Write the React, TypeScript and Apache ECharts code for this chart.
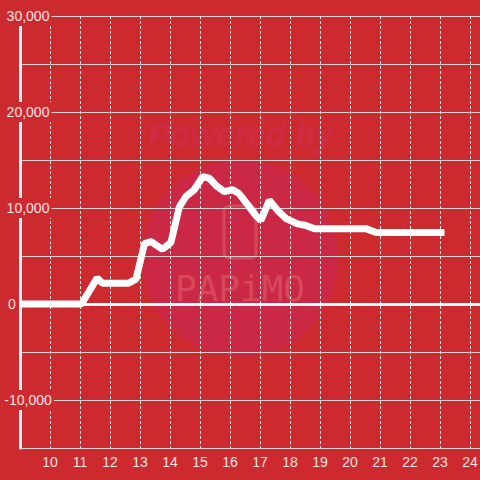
import React, { useEffect, useRef } from "react";
import * as echarts from "echarts";

const hours = [9, 11.05, 11.57, 11.75, 12.6, 12.87, 13.15, 13.37, 13.75, 14.03, 14.31, 14.53, 14.81, 15.09, 15.31, 15.55, 15.81, 16.09, 16.3, 16.6, 16.85, 17.03, 17.31, 17.6, 17.87, 18.25, 18.5, 18.81, 20.53, 20.87, 23.15];
const values = [0, 0, 2700, 2150, 2150, 2600, 6300, 6500, 5700, 6400, 10100, 11200, 11900, 13260, 13100, 12300, 11700, 11900, 11500, 10300, 9250, 8700, 10800, 9700, 8900, 8350, 8200, 7850, 7850, 7450, 7450];
const yLabelValues = [-10000, 0, 10000, 20000, 30000];
const xLabelValues = [10, 11, 12, 13, 14, 15, 16, 17, 18, 19, 20, 21, 22, 23, 24];

const BG = "#cd2a2f";
const FONT = "Liberation Sans";

export default function App() {
  const ref = useRef<HTMLDivElement>(null);
  useEffect(() => {
    if (!ref.current) return;
    const chart = echarts.init(ref.current, undefined, { renderer: "svg" });
    const data = hours.map((h, i) => [h, values[i]]);
    const yMin = -15000;
    const yMax = 30000;
    chart.setOption({
      animation: false,
      backgroundColor: BG,
      textStyle: { fontFamily: FONT },
      grid: { left: 20, width: 480, top: 16, bottom: 32, containLabel: false, outerBoundsMode: "none" },
      graphic: {
        elements: [
          { type: "circle", z: -1, shape: { cx: 240, cy: 258, r: 98 }, style: { fill: "#cb2846" }, silent: true },
          {
            type: "text", z: -1, x: 241, y: 134, silent: true,
            style: { text: "Powered by", fill: "#cf2b44", font: "italic bold 33px 'Liberation Sans'", align: "center", verticalAlign: "middle" },
          },
          {
            type: "rect", z: -1, silent: true,
            shape: { x: 224, y: 206, width: 32, height: 52, r: 5 },
            style: { fill: "none", stroke: "#d6485a", lineWidth: 3 },
          },
          {
            type: "text", z: -1, x: 240, y: 288, silent: true,
            style: { text: "PAPiMO", fill: "#d6485a", font: "36px 'DejaVu Sans Mono'", align: "center", verticalAlign: "middle" },
          },
        ],
      },
      xAxis: {
        type: "value",
        min: 9,
        max: 25,
        interval: 1,
        position: "bottom",
        axisLine: { show: true, lineStyle: { color: "#d4d4d4", width: 1 } },
        axisTick: { show: false },
        axisLabel: {
          color: "#f4e4e4",
          fontSize: 14,
          fontFamily: FONT,
          margin: 7,
          formatter: (v: number) => (xLabelValues.includes(v) ? String(v) : ""),
        },
        splitLine: { show: true, lineStyle: { color: "#e2dede", width: 1, type: [3, 2] } },
      },
      yAxis: [
        {
          type: "value",
          position: "left",
          min: yMin,
          max: yMax,
          interval: 5000,
          axisLine: { show: false },
          axisTick: { show: false },
          axisLabel: { show: false },
          splitLine: { show: true, lineStyle: { color: "#d2d0d0", width: 1 } },
        },
        {
          type: "value",
          position: "left",
          min: yMin,
          max: yMax,
          interval: 5000,
          z: 1,
          axisLine: { show: true, lineStyle: { color: "#f4f0f0", width: 3 } },
          axisTick: { show: false },
          splitLine: { show: false },
          axisLabel: {
            color: "#f4e4e4",
            fontSize: 14,
            fontFamily: FONT,
            margin: -8,
            align: "center",
            formatter: (v: number) => {
              if (!yLabelValues.includes(v)) return "";
              if (v === 0) return "{z|0}";
              return "{n|" + v.toLocaleString("en-US") + "}";
            },
            rich: {
              n: { backgroundColor: BG, padding: [3, 2, 3, 2], color: "#f4e4e4", fontSize: 14, fontFamily: FONT },
              z: { padding: [0, 32, 0, 0], color: "#f4e4e4", fontSize: 14, fontFamily: FONT },
            },
          },
        },
      ],
      series: [
        {
          type: "line",
          data,
          xAxisIndex: 0,
          yAxisIndex: 0,
          showSymbol: false,
          symbol: "none",
          lineStyle: { color: "#ffffff", width: 7 },
          markLine: {
            silent: true,
            symbol: ["none", "none"],
            label: { show: false },
            lineStyle: { color: "#ffffff", width: 3, type: "solid" },
            data: [{ yAxis: 0 }],
          },
        },
      ],
    });
    return () => chart.dispose();
  }, []);
  return <div ref={ref} style={{ position: "fixed", left: 0, top: 0, width: 480, height: 480 }} />;
}
